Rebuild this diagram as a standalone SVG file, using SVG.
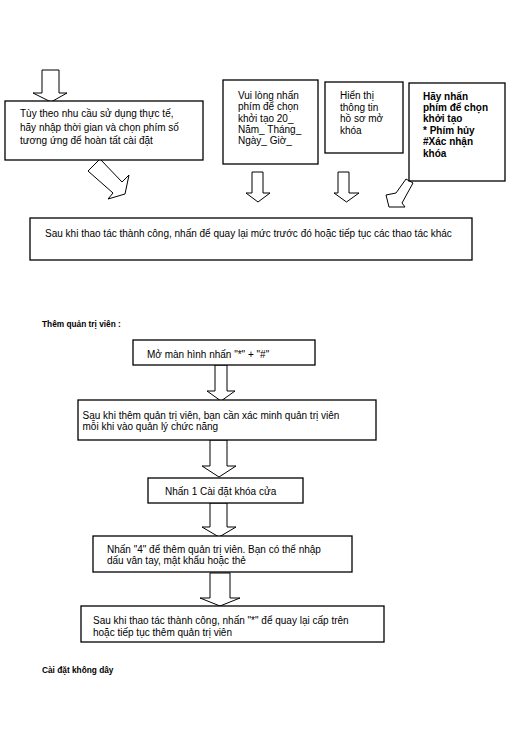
<svg xmlns="http://www.w3.org/2000/svg" width="527" height="751" viewBox="0 0 527 751">
<style>
.box{fill:#fff;stroke:#000;stroke-width:1.3}
.arr{fill:#fff;stroke:#000;stroke-width:1;stroke-linejoin:miter}
.t{font-family:"Liberation Sans",Arial,sans-serif;font-size:10px;fill:#000}
.b{font-family:"Liberation Sans",Arial,sans-serif;font-size:10px;font-weight:bold;fill:#000}
.h{font-family:"Liberation Sans",Arial,sans-serif;font-size:8.3px;font-weight:bold;fill:#000}
</style>
<rect width="527" height="751" fill="#fff"/>
<g id="connectors">
<polygon class="arr" points="42,70 59,70 59,93 67,93 51,102 33,93 42,93"/>
<polygon class="arr" points="100,159 122,182 129,175 125,194 108,199 113,193 88,171"/>
<polygon class="arr" points="252,172 263,172 263,193 270,193 258,202 246,193 252,193"/>
<polygon class="arr" points="338,172 349,172 349,193 359,193 346.5,202 334,193 338,193"/>
<polygon class="arr" points="406,179 413,183 402,203 405,207 389,207 386,195 396,193"/>
<polygon class="arr" points="215,365 227,365 227,391 235,391 221,401 207,391 215,391"/>
<polygon class="arr" points="210,440 227,440 227,466 236,466 219,477 202,466 210,466"/>
<polygon class="arr" points="210,503 227,503 227,527 236,527 219,537 202,527 210,527"/>
<polygon class="arr" points="210,573 230,573 230,598 240,598 220,606 200,598 210,598"/>
</g>
<g id="n1">
<rect class="box" x="5" y="101" width="198" height="59"/>
<text class="t" x="20" y="117">Tùy theo nhu cầu sử dụng thực tế,</text>
<text class="t" x="20" y="130.5">hãy nhập thời gian và chọn phím số</text>
<text class="t" x="20" y="144">tương ứng để hoàn tất cài đặt</text>
</g>
<g id="n2">
<rect class="box" x="223" y="80" width="95" height="84"/>
<text class="t" x="238" y="99">Vui lòng nhấn</text>
<text class="t" x="238" y="110">phím để chọn</text>
<text class="t" x="238" y="121.5">khởi tạo 20_</text>
<text class="t" x="238" y="132.5">Năm_ Tháng_</text>
<text class="t" x="238" y="144">Ngày_ Giờ_</text>
</g>
<g id="n3">
<rect class="box" x="325" y="82" width="78" height="71"/>
<text class="t" x="340" y="99">Hiển thị</text>
<text class="t" x="340" y="110.5">thông tin</text>
<text class="t" x="340" y="122">hồ sơ mở</text>
<text class="t" x="340" y="133.5">khóa</text>
</g>
<g id="n4">
<rect class="box" x="409" y="83" width="96" height="98"/>
<text class="b" x="423" y="99.5">Hãy nhấn</text>
<text class="b" x="423" y="110.5">phím để chọn</text>
<text class="b" x="423" y="122">khởi tạo</text>
<text class="b" x="423" y="133.5">* Phím hủy</text>
<text class="b" x="423" y="145">#Xác nhận</text>
<text class="b" x="423" y="156.5">khóa</text>
</g>
<g id="n5">
<rect class="box" x="30" y="218" width="442" height="42"/>
<text class="t" x="45" y="236.5">Sau khi thao tác thành công, nhấn để quay lại mức trước đó hoặc tiếp tục các thao tác khác</text>
</g>
<g id="h1">
<text class="h" x="42" y="327">Thêm quản trị viên :</text>
</g>
<g id="m1">
<rect class="box" x="133" y="340" width="182" height="25"/>
<text class="t" x="147" y="357.5">Mở màn hình nhấn "*" + "#"</text>
</g>
<g id="m2">
<rect class="box" x="78" y="400" width="298" height="40"/>
<text class="t" x="82.5" y="418.5">Sau khi thêm quản trị viên, bạn cần xác minh quản trị viên</text>
<text class="t" x="82.5" y="430">mỗi khi vào quản lý chức năng</text>
</g>
<g id="m3">
<rect class="box" x="148" y="478" width="155" height="25"/>
<text class="t" x="165" y="494.5">Nhấn 1 Cài đặt khóa cửa</text>
</g>
<g id="m4">
<rect class="box" x="93" y="536" width="259" height="36"/>
<text class="t" x="107" y="552.5">Nhấn "4" để thêm quản trị viên. Bạn có thể nhập</text>
<text class="t" x="107" y="564">dấu vân tay, mật khẩu hoặc thẻ</text>
</g>
<g id="m5">
<rect class="box" x="81" y="606" width="303" height="36"/>
<text class="t" x="93" y="624">Sau khi thao tác thành công, nhấn "*" để quay lại cấp trên</text>
<text class="t" x="93" y="635.5">hoặc tiếp tục thêm quản trị viên</text>
</g>
<g id="h2">
<text class="h" x="42" y="673">Cài đặt không dây</text>
</g>
</svg>
